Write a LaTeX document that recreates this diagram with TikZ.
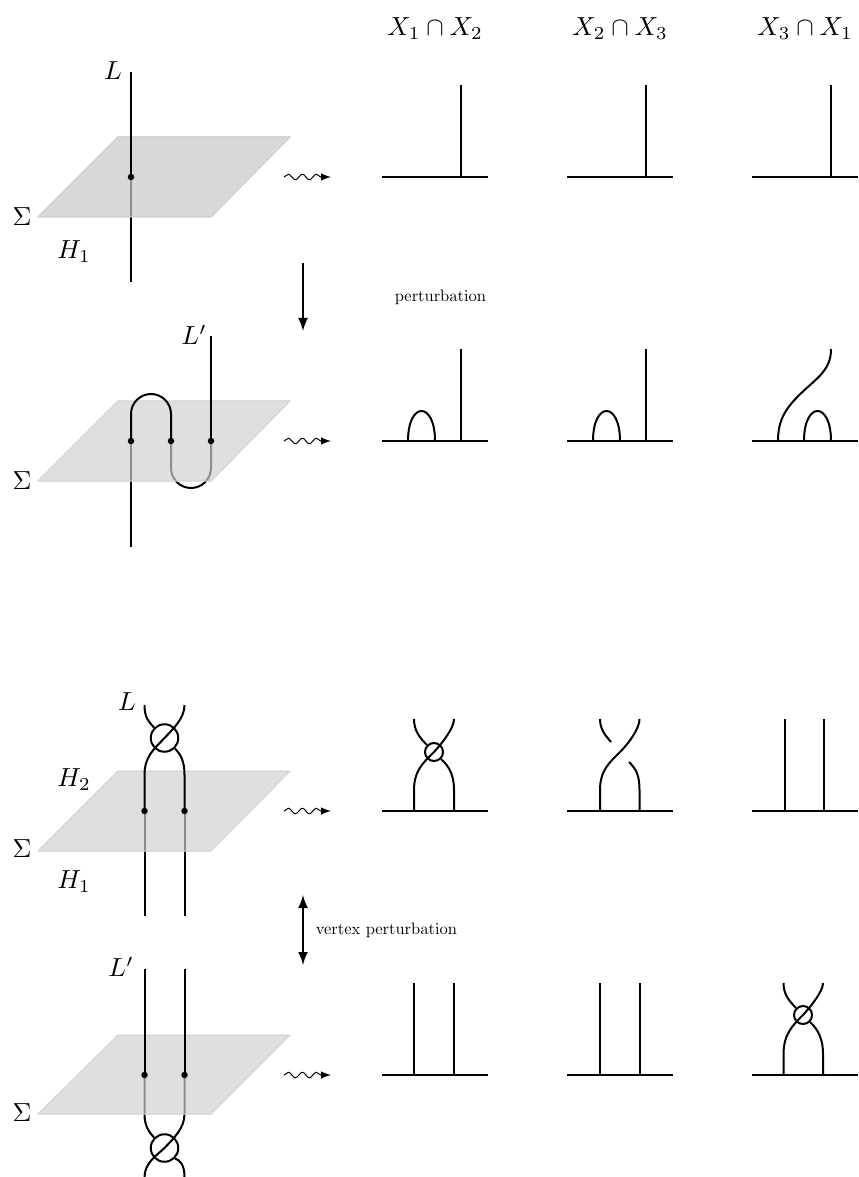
\documentclass[tikz,border=0pt]{standalone}
\usepackage{fix-cm}
\usetikzlibrary{decorations.pathmorphing}
\definecolor{planeColor}{RGB}{200,200,200}
\definecolor{planeLight}{RGB}{208,208,208}
\newcommand{\mathlabel}{\fontsize{10.45}{12}\selectfont}
\font\smalllabel=cmr10 at 6.6pt
\tikzset{
  strand/.style={line width=0.8pt},
  baseline line/.style={line width=0.8pt},
  sheet/.style={fill=planeColor, draw=planeColor, line width=0.6pt, line join=round, opacity=0.7},
  sheet light/.style={fill=planeLight, draw=planeLight, line width=0.6pt, line join=round, opacity=0.68},
  puncture/.style={circle, fill=black, inner sep=0pt, minimum size=2.6pt},
  virtual big/.style={circle, draw, line width=0.8pt, inner sep=0pt, minimum size=11pt},
  virtual small/.style={circle, draw, line width=0.8pt, inner sep=0pt, minimum size=7.2pt},
  wiggle/.style={-latex, line width=0.4pt, decorate, decoration={snake, amplitude=1.1pt, segment length=5.6pt, post length=3.5pt}},
  move/.style={line width=0.8pt}
}
\begin{document}
\begin{tikzpicture}[x=0.4pt, y=-0.4pt, every node/.style={font=\mathlabel}]
\useasboundingbox (0,0) rectangle (858,1177);

% column titles
\node (t1) at (435,29) {$X_1\cap X_2$};
\node (t2) at (620,29) {$X_2\cap X_3$};
\node (t3) at (805,29) {$X_3\cap X_1$};

% first row
\coordinate (a1) at (131,177);
\draw[strand] (a1) -- (131,282);
\draw[sheet] (118,137) -- (290,137) -- (211,217) -- (38,217) -- cycle;
\draw[strand] (a1) -- (131,72);
\node[puncture] (a1dot) at (a1) {};
\node (aL) at (113,71) {$L$};
\node (aS) at (22,217) {$\Sigma$};
\node (aH) at (74,252) {$H_1$};
\coordinate (aw1) at (284,177);
\coordinate (aw2) at (331,177);
\draw[wiggle] (aw1) -- (aw2);
\draw[baseline line] (382,177) -- (488,177);
\draw[strand] (461,177) -- (461,85);
\draw[baseline line] (567,177) -- (673,177);
\draw[strand] (646,177) -- (646,85);
\draw[baseline line] (752,177) -- (858,177);
\draw[strand] (831,177) -- (831,85);

% perturbation arrow
\coordinate (m1) at (303,263);
\coordinate (m2) at (303,331);
\draw[move, -latex] (m1) -- (m2);
\node[font=\smalllabel] (mlabel) at (440.5,297) {perturbation};

% second row
\coordinate (b1) at (131,441);
\coordinate (b2) at (171,441);
\coordinate (b3) at (211,441);
\draw[strand] (b1) -- (131,547);
\draw[strand] (b2) -- (171,468) .. controls (171,479) and (180,488) .. (191,488) .. controls (202,488) and (211,479) .. (211,468) -- (b3);
\draw[sheet light] (118,401) -- (290,401) -- (211,481) -- (38,481) -- cycle;
\draw[strand] (b1) -- (131,414) .. controls (131,403) and (140,394) .. (151,394) .. controls (162,394) and (171,403) .. (171,414) -- (b2);
\draw[strand] (b3) -- (211,336);
\node[puncture] (b1dot) at (b1) {};
\node[puncture] (b2dot) at (b2) {};
\node[puncture] (b3dot) at (b3) {};
\node (bL) at (194,335) {$L'$};
\node (bS) at (22,481) {$\Sigma$};
\coordinate (bw1) at (284,441);
\coordinate (bw2) at (331,441);
\draw[wiggle] (bw1) -- (bw2);
\draw[baseline line] (382,441) -- (488,441);
\draw[strand] (408,441) .. controls (408,401) and (435,401) .. (435,441);
\draw[strand] (461,441) -- (461,349);
\draw[baseline line] (567,441) -- (673,441);
\draw[strand] (593,441) .. controls (593,401) and (620,401) .. (620,441);
\draw[strand] (646,441) -- (646,349);
\draw[baseline line] (752,441) -- (858,441);
\draw[strand] (804,441) .. controls (804,401) and (831,401) .. (831,441);
\draw[strand] (778,441) .. controls (778,420) and (785,408) .. (804.5,390) .. controls (820,376) and (831,368) .. (831,349);

% third row
\coordinate (c1) at (144.5,811);
\coordinate (c2) at (184.5,811);
\draw[strand] (c1) -- (144.5,916);
\draw[strand] (c2) -- (184.5,916);
\draw[sheet light] (118,771) -- (290,771) -- (211,851) -- (38,851) -- cycle;
\node[virtual big] (cv) at (164.5,738) {};
\draw[strand] (c1) -- (144.5,775) .. controls (144.5,757) and (153,750) .. (cv.center) .. controls (174,728) and (184.5,718) .. (184.5,705);
\draw[strand] (c2) -- (184.5,775) .. controls (184.5,760) and (180,754) .. (cv.-45);
\draw[strand] (144.5,705) .. controls (144.5,718) and (149,722) .. (cv.135);
\node[puncture] (c1dot) at (c1) {};
\node[puncture] (c2dot) at (c2) {};
\node (cL) at (127,702) {$L$};
\node (cH) at (74,780) {$H_2$};
\node (cS) at (22,849) {$\Sigma$};
\node (cH1) at (74,882) {$H_1$};
\coordinate (cw1) at (284,811);
\coordinate (cw2) at (331,811);
\draw[wiggle] (cw1) -- (cw2);
\draw[baseline line] (382,811) -- (488,811);
\node[virtual small] (cv1) at (434,752) {};
\draw[strand] (414,811) -- (414,790) .. controls (414,770) and (424,762) .. (cv1.center) .. controls (443,742) and (454,728) .. (454,719);
\draw[strand] (454,811) -- (454,790) .. controls (454,770) and (445,763) .. (cv1.-45);
\draw[strand] (414,719) .. controls (414,731) and (420,738) .. (cv1.135);
\draw[baseline line] (567,811) -- (673,811);
\draw[strand] (600,811) -- (600,790) .. controls (600,770) and (610,762) .. (620,752) .. controls (630,742) and (639.5,728) .. (639.5,719);
\draw[strand] (600,719) .. controls (600,730) and (606,736) .. (611,742);
\draw[strand] (629,762) .. controls (636,769) and (639.5,775) .. (639.5,790) -- (639.5,811);
\draw[baseline line] (752,811) -- (858,811);
\draw[strand] (784.5,811) -- (784.5,719);
\draw[strand] (824,811) -- (824,719);

% vertex perturbation arrow
\coordinate (n1) at (303,895);
\coordinate (n2) at (303,965);
\draw[move, latex-latex] (n1) -- (n2);
\node[font=\smalllabel] (nlabel) at (386.5,930) {vertex perturbation};

% fourth row
\coordinate (e1) at (144.5,1075);
\coordinate (e2) at (184.5,1075);
\node[virtual big] (ev) at (164.5,1148) {};
\draw[strand] (e1) -- (144.5,1114) .. controls (144.5,1126) and (149,1132) .. (ev.135);
\draw[strand] (e2) -- (184.5,1114) .. controls (184.5,1128) and (174,1138) .. (ev.center) .. controls (157,1155) and (144.5,1163) .. (144.5,1177);
\draw[strand] (184.5,1177) .. controls (184.5,1165) and (180,1160) .. (ev.-45);
\draw[sheet light] (118,1035) -- (290,1035) -- (211,1114) -- (38,1114) -- cycle;
\draw[strand] (e1) -- (144.5,969);
\draw[strand] (e2) -- (184.5,969);
\node[puncture] (e1dot) at (e1) {};
\node[puncture] (e2dot) at (e2) {};
\node (eL) at (121,967) {$L'$};
\node (eS) at (22,1113) {$\Sigma$};
\coordinate (ew1) at (284,1075);
\coordinate (ew2) at (331,1075);
\draw[wiggle] (ew1) -- (ew2);
\draw[baseline line] (382,1075) -- (488,1075);
\draw[strand] (414,1075) -- (414,983);
\draw[strand] (454,1075) -- (454,983);
\draw[baseline line] (567,1075) -- (673,1075);
\draw[strand] (600,1075) -- (600,983);
\draw[strand] (639.5,1075) -- (639.5,983);
\draw[baseline line] (752,1075) -- (858,1075);
\node[virtual small] (ev3) at (803,1015) {};
\draw[strand] (783.5,1075) -- (783.5,1054) .. controls (783.5,1034) and (793,1025) .. (ev3.center) .. controls (812,1005) and (823,991) .. (823,983);
\draw[strand] (823,1075) -- (823,1054) .. controls (823,1034) and (814,1026) .. (ev3.-45);
\draw[strand] (783.5,983) .. controls (783.5,995) and (789.5,1001) .. (ev3.135);
\end{tikzpicture}
\end{document}
